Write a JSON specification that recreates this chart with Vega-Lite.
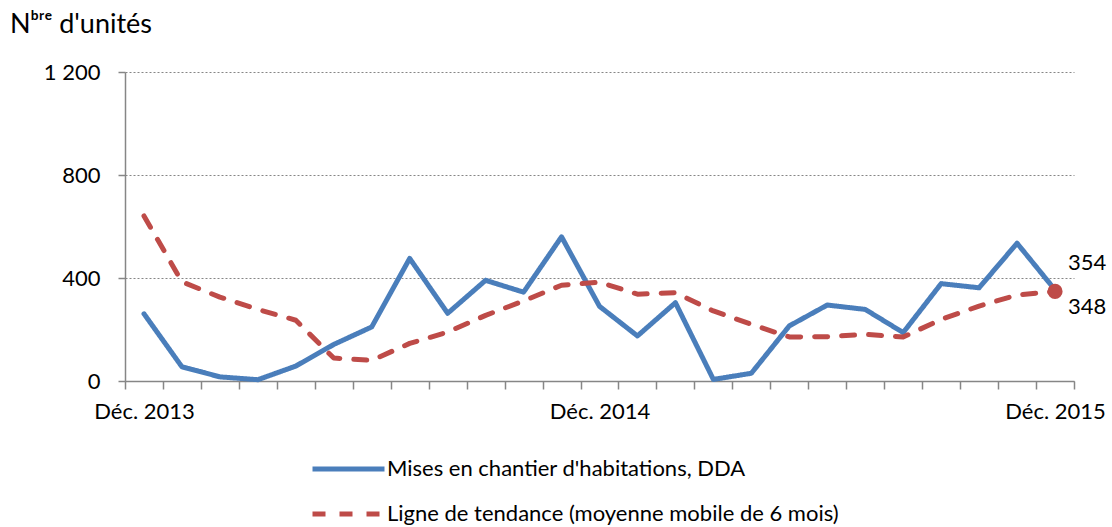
{
  "$schema": "https://vega.github.io/schema/vega-lite/v6.json",
  "width": 949,
  "height": 309,
  "autosize": {"type": "none"},
  "padding": {"left": 125, "top": 72, "right": 38, "bottom": 146},
  "background": "white",
  "config": {"font": "Lato", "view": {"stroke": null}},
  "title": {"text": "Nᵇʳᵉ  d'unités", "anchor": "start", "frame": "group", "dx": -115, "fontSize": 27, "fontWeight": "normal", "color": "black", "offset": 22},
  "data": {"values": [
    {"mois": "2013-12", "serie": "Mises en chantier d'habitations, DDA", "valeur": 261},
    {"mois": "2014-01", "serie": "Mises en chantier d'habitations, DDA", "valeur": 55},
    {"mois": "2014-02", "serie": "Mises en chantier d'habitations, DDA", "valeur": 16},
    {"mois": "2014-03", "serie": "Mises en chantier d'habitations, DDA", "valeur": 5},
    {"mois": "2014-04", "serie": "Mises en chantier d'habitations, DDA", "valeur": 58},
    {"mois": "2014-05", "serie": "Mises en chantier d'habitations, DDA", "valeur": 142},
    {"mois": "2014-06", "serie": "Mises en chantier d'habitations, DDA", "valeur": 210},
    {"mois": "2014-07", "serie": "Mises en chantier d'habitations, DDA", "valeur": 476},
    {"mois": "2014-08", "serie": "Mises en chantier d'habitations, DDA", "valeur": 263},
    {"mois": "2014-09", "serie": "Mises en chantier d'habitations, DDA", "valeur": 391},
    {"mois": "2014-10", "serie": "Mises en chantier d'habitations, DDA", "valeur": 345},
    {"mois": "2014-11", "serie": "Mises en chantier d'habitations, DDA", "valeur": 560},
    {"mois": "2014-12", "serie": "Mises en chantier d'habitations, DDA", "valeur": 290},
    {"mois": "2015-01", "serie": "Mises en chantier d'habitations, DDA", "valeur": 175},
    {"mois": "2015-02", "serie": "Mises en chantier d'habitations, DDA", "valeur": 304},
    {"mois": "2015-03", "serie": "Mises en chantier d'habitations, DDA", "valeur": 6},
    {"mois": "2015-04", "serie": "Mises en chantier d'habitations, DDA", "valeur": 30},
    {"mois": "2015-05", "serie": "Mises en chantier d'habitations, DDA", "valeur": 214},
    {"mois": "2015-06", "serie": "Mises en chantier d'habitations, DDA", "valeur": 295},
    {"mois": "2015-07", "serie": "Mises en chantier d'habitations, DDA", "valeur": 278},
    {"mois": "2015-08", "serie": "Mises en chantier d'habitations, DDA", "valeur": 188},
    {"mois": "2015-09", "serie": "Mises en chantier d'habitations, DDA", "valeur": 378},
    {"mois": "2015-10", "serie": "Mises en chantier d'habitations, DDA", "valeur": 362},
    {"mois": "2015-11", "serie": "Mises en chantier d'habitations, DDA", "valeur": 535},
    {"mois": "2015-12", "serie": "Mises en chantier d'habitations, DDA", "valeur": 354},
    {"mois": "2013-12", "serie": "Ligne de tendance (moyenne mobile de 6 mois)", "valeur": 641},
    {"mois": "2014-01", "serie": "Ligne de tendance (moyenne mobile de 6 mois)", "valeur": 385},
    {"mois": "2014-02", "serie": "Ligne de tendance (moyenne mobile de 6 mois)", "valeur": 326},
    {"mois": "2014-03", "serie": "Ligne de tendance (moyenne mobile de 6 mois)", "valeur": 278},
    {"mois": "2014-04", "serie": "Ligne de tendance (moyenne mobile de 6 mois)", "valeur": 236},
    {"mois": "2014-05", "serie": "Ligne de tendance (moyenne mobile de 6 mois)", "valeur": 89},
    {"mois": "2014-06", "serie": "Ligne de tendance (moyenne mobile de 6 mois)", "valeur": 80},
    {"mois": "2014-07", "serie": "Ligne de tendance (moyenne mobile de 6 mois)", "valeur": 146},
    {"mois": "2014-08", "serie": "Ligne de tendance (moyenne mobile de 6 mois)", "valeur": 190},
    {"mois": "2014-09", "serie": "Ligne de tendance (moyenne mobile de 6 mois)", "valeur": 255},
    {"mois": "2014-10", "serie": "Ligne de tendance (moyenne mobile de 6 mois)", "valeur": 311},
    {"mois": "2014-11", "serie": "Ligne de tendance (moyenne mobile de 6 mois)", "valeur": 372},
    {"mois": "2014-12", "serie": "Ligne de tendance (moyenne mobile de 6 mois)", "valeur": 384},
    {"mois": "2015-01", "serie": "Ligne de tendance (moyenne mobile de 6 mois)", "valeur": 337},
    {"mois": "2015-02", "serie": "Ligne de tendance (moyenne mobile de 6 mois)", "valeur": 343},
    {"mois": "2015-03", "serie": "Ligne de tendance (moyenne mobile de 6 mois)", "valeur": 272},
    {"mois": "2015-04", "serie": "Ligne de tendance (moyenne mobile de 6 mois)", "valeur": 220},
    {"mois": "2015-05", "serie": "Ligne de tendance (moyenne mobile de 6 mois)", "valeur": 171},
    {"mois": "2015-06", "serie": "Ligne de tendance (moyenne mobile de 6 mois)", "valeur": 172},
    {"mois": "2015-07", "serie": "Ligne de tendance (moyenne mobile de 6 mois)", "valeur": 181},
    {"mois": "2015-08", "serie": "Ligne de tendance (moyenne mobile de 6 mois)", "valeur": 171},
    {"mois": "2015-09", "serie": "Ligne de tendance (moyenne mobile de 6 mois)", "valeur": 239},
    {"mois": "2015-10", "serie": "Ligne de tendance (moyenne mobile de 6 mois)", "valeur": 291},
    {"mois": "2015-11", "serie": "Ligne de tendance (moyenne mobile de 6 mois)", "valeur": 334},
    {"mois": "2015-12", "serie": "Ligne de tendance (moyenne mobile de 6 mois)", "valeur": 348}
  ]},
  "encoding": {
    "x": {"field": "mois", "type": "ordinal", "bandPosition": 0.5,
      "scale": {"type": "band", "paddingInner": 0, "paddingOuter": 0},
      "axis": {"title": null, "tickBand": "extent", "labelAngle": 0,
        "labelExpr": "indexof(['2013-12','2014-12','2015-12'], datum.value) >= 0 ? 'Déc. ' + slice(datum.value, 0, 4) : ''",
        "domainColor": "#868686", "domainWidth": 1.5, "tickColor": "#868686", "tickWidth": 1.5, "tickSize": 8,
        "labelFontSize": 22, "labelColor": "black", "labelPadding": 12, "grid": false, "labelFlush": false, "labelOverlap": false}},
    "y": {"field": "valeur", "type": "quantitative",
      "scale": {"domain": [0, 1200]},
      "axis": {"title": null, "values": [0, 400, 800, 1200],
        "labelExpr": "replace(format(datum.value, ','), ',', ' ')",
        "grid": true, "gridDash": [2, 2], "gridColor": "#868686", "gridWidth": 1,
        "domainColor": "#868686", "domainWidth": 1.5, "tickColor": "#868686", "tickWidth": 1.5, "tickSize": 7,
        "labelFontSize": 22, "labelColor": "black", "labelPadding": 18}}
  },
  "layer": [
    {
      "mark": {"type": "line", "strokeWidth": 5, "strokeCap": "round", "strokeJoin": "round"},
      "encoding": {
        "color": {"field": "serie", "type": "nominal",
          "scale": {"domain": ["Mises en chantier d'habitations, DDA", "Ligne de tendance (moyenne mobile de 6 mois)"], "range": ["#4a7ebb", "#be4b48"]},
          "legend": {"orient": "none", "legendX": 185, "legendY": 386, "title": null, "direction": "vertical",
            "symbolType": "stroke", "symbolSize": 5184, "symbolStrokeWidth": 5, "labelFontSize": 22, "labelColor": "black",
            "clipHeight": 22, "rowPadding": 23, "labelOffset": 0, "labelLimit": 700}},
        "strokeDash": {"field": "serie", "type": "nominal",
          "scale": {"domain": ["Mises en chantier d'habitations, DDA", "Ligne de tendance (moyenne mobile de 6 mois)"], "range": [[1, 0], [13, 14]]},
          "legend": {"orient": "none", "legendX": 185, "legendY": 386, "title": null, "direction": "vertical",
            "symbolType": "stroke", "symbolSize": 5184, "symbolStrokeWidth": 5, "labelFontSize": 22, "labelColor": "black",
            "clipHeight": 22, "rowPadding": 23, "labelOffset": 0, "labelLimit": 700}}
      }
    },
    {
      "transform": [{"filter": "datum.mois == '2015-12' && datum.serie == 'Ligne de tendance (moyenne mobile de 6 mois)'"}],
      "mark": {"type": "point", "filled": true, "size": 230, "opacity": 1, "color": "#be4b48"}
    },
    {
      "transform": [{"filter": "datum.mois == '2015-12' && datum.serie == 'Mises en chantier d\\'habitations, DDA'"}],
      "mark": {"type": "text", "align": "left", "baseline": "middle", "dx": 13, "dy": -27, "fontSize": 22, "color": "black"},
      "encoding": {"text": {"field": "valeur", "type": "quantitative"}}
    },
    {
      "transform": [{"filter": "datum.mois == '2015-12' && datum.serie == 'Ligne de tendance (moyenne mobile de 6 mois)'"}],
      "mark": {"type": "text", "align": "left", "baseline": "middle", "dx": 13, "dy": 16, "fontSize": 22, "color": "black"},
      "encoding": {"text": {"field": "valeur", "type": "quantitative"}}
    }
  ]
}
